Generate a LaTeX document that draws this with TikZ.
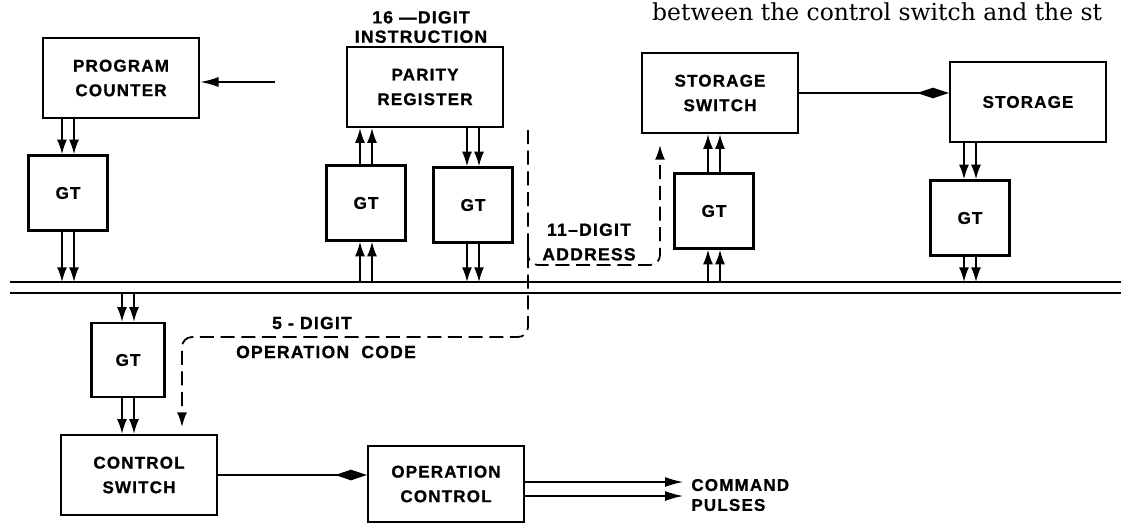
\documentclass[tikz,border=0pt]{standalone}
\usepackage{fontspec}
\setsansfont[LetterSpace=7, BoldFeatures={FakeBold=1}]{Liberation Sans}
\newfontfamily\bookfont{DejaVu Serif}
\usetikzlibrary{arrows.meta,positioning}

\begin{document}
\begin{tikzpicture}[
    font=\sffamily\bfseries\fontsize{14.5}{21}\selectfont,
    box/.style={draw=black, line width=2pt, align=center,
        minimum width=4.68cm, minimum height=2.4cm, inner sep=2pt},
    gtbox/.style={box, minimum width=2.37cm, minimum height=2.25cm},
    note/.style={align=center, inner sep=1pt},
    arrow/.style={-{Latex[length=0.44cm,width=0.3cm]}, line width=1.5pt},
    longarrow/.style={-{Latex[length=0.55cm,width=0.3cm]}, line width=1.5pt},
    diamarrow/.style={-{Diamond[length=0.95cm,width=0.32cm]}, line width=1.4pt},
    dasharrow/.style={arrow, dash pattern=on 0.42cm off 0.2cm, rounded corners=0.3cm},
    busline/.style={line width=1.7pt}
]

\clip (0,0) rectangle (33.63,-15.72);

\node[font=\bookfont\fontsize{20}{24}\selectfont, anchor=base west, inner sep=0pt]
    (booktext) at (19.56,-0.62) {between the control switch and the st};

% registers above the bus
\node[box] (counter) at (3.63,-2.34) {PROGRAM\\COUNTER};
\node[box] (parity) at (12.75,-2.61) {PARITY\\REGISTER};
\node[box] (sswitch) at (21.6,-2.79) {STORAGE\\SWITCH};
\node[box] (storage) at (30.84,-3.06) {STORAGE};

\node[note, font=\sffamily\bfseries\fontsize{15}{16.5}\selectfont] (instr) at (12.63,-0.81)
    {16 ---DIGIT\\INSTRUCTION};

\node[gtbox] (gta) at (2.04,-5.79) {GT};
\node[gtbox] (gtb) at (10.98,-6.09) {GT};
\node[gtbox] (gtc) at (14.19,-6.15) {GT};
\node[gtbox] (gtd) at (21.42,-6.33) {GT};
\node[gtbox] (gte) at (29.1,-6.54) {GT};

% the bus
\coordinate (busa) at (0.3,-8.46);
\coordinate (busb) at (0.3,-8.79);
\draw[busline] (busa) -- ++(33.4,0);
\draw[busline] (busb) -- ++(33.4,0);

% below the bus
\node[gtbox, minimum width=2.2cm, minimum height=2.22cm] (gtf) at (3.84,-10.8) {GT};
\node[box] (cswitch) at (4.17,-14.25) {CONTROL\\SWITCH};
\node[box, minimum height=2.28cm] (opctrl) at (13.38,-14.52) {OPERATION\\CONTROL};
\node[note, align=left, anchor=west, font=\sffamily\bfseries\fontsize{14.5}{17}\selectfont]
    (pulses) at (20.7,-14.85) {COMMAND\\PULSES};

\node[note, font=\sffamily\bfseries\fontsize{15}{18}\selectfont] (digits) at (9.36,-9.69) {5 - DIGIT};
\node[note, font=\sffamily\bfseries\fontsize{15}{18}\selectfont] (opcode) at (9.78,-10.56) {OPERATION\ \ CODE};
\node[note, font=\sffamily\bfseries\fontsize{15}{21}\selectfont] (addr) at (17.67,-7.26)
    {11--DIGIT\\ADDRESS};

% double transfer lines
\foreach \dx in {-0.18,0.18} {
    \draw[arrow] ([xshift=\dx cm]gta.north |- counter.south) -- ([xshift=\dx cm]gta.north);
    \draw[arrow] ([xshift=\dx cm]gta.south) -- ([xshift=\dx cm]gta.south |- busa);
    \draw[arrow] ([xshift=\dx cm]gtb.south |- busa) -- ([xshift=\dx cm]gtb.south);
    \draw[arrow] ([xshift=\dx cm]gtb.north) -- ([xshift=\dx cm]gtb.north |- parity.south);
    \draw[arrow] ([xshift=\dx cm]gtc.north |- parity.south) -- ([xshift=\dx cm]gtc.north);
    \draw[arrow] ([xshift=\dx cm]gtc.south) -- ([xshift=\dx cm]gtc.south |- busa);
    \draw[arrow] ([xshift=\dx cm]gtd.south |- busa) -- ([xshift=\dx cm]gtd.south);
    \draw[arrow] ([xshift=\dx cm]gtd.north) -- ([xshift=\dx cm]gtd.north |- sswitch.south);
    \draw[arrow] ([xshift=\dx cm]gte.north |- storage.south) -- ([xshift=\dx cm]gte.north);
    \draw[arrow] ([xshift=\dx cm]gte.south) -- ([xshift=\dx cm]gte.south |- busa);
    \draw[arrow] ([xshift=\dx cm]gtf.north |- busb) -- ([xshift=\dx cm]gtf.north);
    \draw[arrow] ([xshift=\dx cm]gtf.south) -- ([xshift=\dx cm]gtf.south |- cswitch.north);
}

\coordinate (pcin) at (8.25,-2.46);
\draw[longarrow] (pcin) -- (pcin -| counter.east);

\draw[diamarrow] (sswitch.east) -- (sswitch.east -| storage.west);
\draw[diamarrow] (cswitch.east) -- (cswitch.east -| opctrl.west);

\foreach \dy in {0.06,-0.36}
    \draw[longarrow, shorten >=0.2cm] ([yshift=\dy cm]opctrl.east) -- ([yshift=\dy cm]opctrl.east -| pulses.west);

% instruction split
\coordinate (split) at (15.84,-3.9);
\coordinate (codeturn) at (15.84,-10.11);
\coordinate (codeend) at (5.46,-12.81);
\draw[dasharrow] (split) -- (codeturn) -| (codeend);

\coordinate (branch) at (15.84,-7.4);
\coordinate (addrturn) at (19.8,-7.95);
\coordinate (addrend) at (19.8,-4.35);
\draw[dasharrow] (branch) |- (addrturn) -- (addrend);

\end{tikzpicture}
\end{document}
